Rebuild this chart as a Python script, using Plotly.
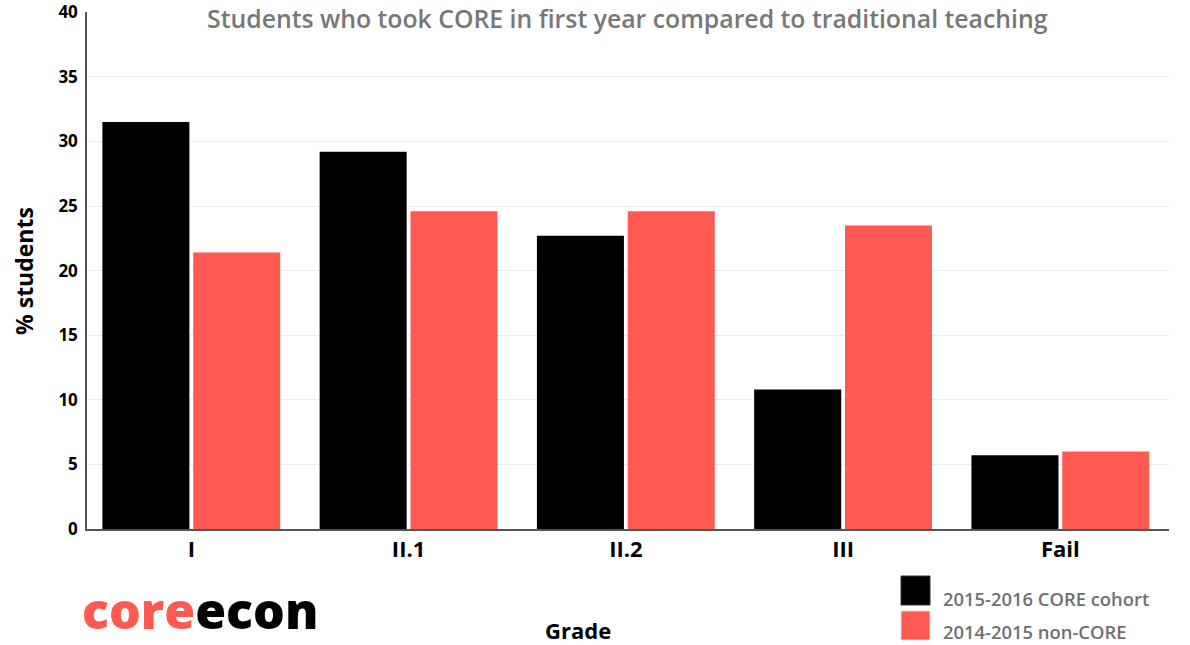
import plotly.graph_objects as go

# Degree classification shares (% of students)
grades = ["I", "II.1", "II.2", "III", "Fail"]
core_2015_16 = [31.5, 29.2, 22.7, 10.8, 5.7]
noncore_2014_15 = [21.4, 24.6, 24.6, 23.5, 6.0]
series_names = ["2015-2016 CORE cohort", "2014-2015 non-CORE"]
series_colors = ["#000000", "#ff5a52"]
y_ticks = [0, 5, 10, 15, 20, 25, 30, 35, 40]

FONT = "Open Sans, Noto Sans, sans-serif"

# plot area in pixels
L, R, T, B = 87, 21, 12, 116
W, H = 1190, 645
PW, PH = W - L - R, H - T - B


def px(x):
    return (x - L) / PW


def py(y):
    return (H - B - y) / PH


fig = go.Figure()
for name, vals, col in zip(series_names, [core_2015_16, noncore_2014_15], series_colors):
    fig.add_trace(go.Bar(
        x=grades, y=vals, name=name,
        marker=dict(color=col, line=dict(width=0)),
        showlegend=False,
    ))

fig.update_layout(
    width=W, height=H,
    margin=dict(l=L, r=R, t=T, b=B),
    paper_bgcolor="white", plot_bgcolor="white",
    barmode="group", bargap=0.164, bargroupgap=0.042,
    font=dict(family=FONT, color="#000000"),
    xaxis=dict(
        range=[-0.48, 4.5], automargin=False,
        showline=True, linecolor="#555555", linewidth=1.5,
        ticks="", showgrid=False,
        tickfont=dict(size=22, color="#000000", family=FONT, weight="bold"),
    ),
    yaxis=dict(
        range=[0, 40.02], tickvals=y_ticks, automargin=False,
        ticklabeloverflow="allow",
        showline=True, linecolor="#555555", linewidth=1.5,
        gridcolor="#ececec", gridwidth=1, zeroline=False,
        ticks="", ticklabelstandoff=4,
        tickfont=dict(size=17, color="#000000", family=FONT, weight="bold"),
    ),
)

# Title
fig.add_annotation(
    x=0.5, y=py(18), xref="paper", yref="paper", xanchor="center", yanchor="middle",
    xshift=-1,
    text="Students who took CORE in first year compared to traditional teaching",
    showarrow=False, font=dict(size=24.8, color="#777777", family=FONT, weight=600),
)

# Axis titles
fig.add_annotation(
    x=px(578), y=py(630), xref="paper", yref="paper", showarrow=False,
    xanchor="center", yanchor="middle",
    text="Grade", font=dict(size=22, color="#000000", family=FONT, weight="bold"),
)
fig.add_annotation(
    x=px(24), y=py(271), xref="paper", yref="paper", showarrow=False,
    xanchor="center", yanchor="middle",
    text="% students", textangle=-90,
    font=dict(size=23, color="#000000", family=FONT, weight="bold"),
)

# Legend drawn with big swatches
legend_rows = [(590.5, 598, series_names[0], series_colors[0]),
               (625.5, 631, series_names[1], series_colors[1])]
for yc, yt, label, col in legend_rows:
    fig.add_shape(
        type="rect", xref="paper", yref="paper",
        x0=px(901), x1=px(930), y0=py(yc - 14.5), y1=py(yc + 14.5),
        fillcolor=col, line=dict(width=1, color="#dddddd" if col != "#000000" else "#333333"),
    )
    fig.add_annotation(
        x=px(941), y=py(yt), xref="paper", yref="paper",
        xanchor="left", yanchor="middle", showarrow=False,
        text=label, font=dict(size=18.4, color="#707070", family=FONT, weight=600),
    )

# Logo
fig.add_annotation(
    x=px(81), y=py(645), xref="paper", yref="paper",
    xanchor="left", yanchor="bottom", showarrow=False, borderpad=0,
    text="<span style='color:#ff5a52'>core</span><span style='color:#000000'>econ</span>",
    font=dict(size=50, family=FONT, weight=800),
)

fig.write_html("out.html")
